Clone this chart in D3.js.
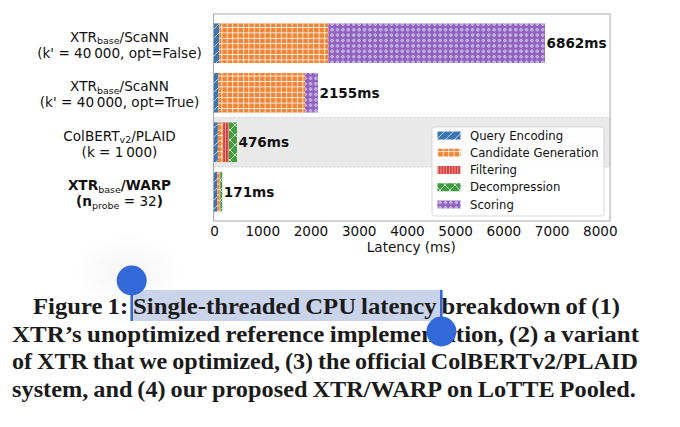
<!DOCTYPE html>
<html><head><meta charset="utf-8">
<script src="https://cdn.jsdelivr.net/npm/d3@7"></script>
<style>body{margin:0;background:#fff}svg{display:block}</style>
</head><body><svg id="c" width="680" height="427"></svg>
<script>
// ---------- data ----------
const categories = ["XTR/ScaNN opt=False", "XTR/ScaNN opt=True", "ColBERTv2/PLAID", "XTR/WARP"];
const stages = ["Query Encoding", "Candidate Generation", "Filtering", "Decompression", "Scoring"];
const queryEncoding       = [110,   90,  80, 65];
const candidateGeneration = [2260, 1796, 110, 50];
const filtering           = [0,     0,  120, 15];
const decompression       = [0,     0,  166, 41];
const scoring             = [4492, 269,   0,  0];
const totalLabels = ["6862ms", "2155ms", "476ms", "171ms"];
const xTicks = [0, 1000, 2000, 3000, 4000, 5000, 6000, 7000, 8000];
const xMax = 8210;
const highlightedCategory = "ColBERTv2/PLAID";
const xAxisLabel = "Latency (ms)";
// rich y labels: runs of [text, style]  n=normal b=bold s=subscript
const labelLines = [
  [[["XTR","n"],["base","s"],["/ScaNN","n"]], [["(k' = 40\u2009000, opt=False)","n"]]],
  [[["XTR","n"],["base","s"],["/ScaNN","n"]], [["(k' = 40\u2009000, opt=True)","n"]]],
  [[["ColBERT","n"],["v2","s"],["/PLAID","n"]], [["(k = 1\u2009000)","n"]]],
  [[["XTR","b"],["base","s"],["/WARP","b"]], [["(","b"],["n","b"],["probe","s"],[" = 32","n"],[")","b"]]]
];
const captionLines = [
  "Figure 1: Single-threaded CPU latency breakdown of (1)",
  "XTR\u2019s unoptimized reference implementation, (2) a variant",
  "of XTR that we optimized, (3) the official ColBERTv2/PLAID",
  "system, and (4) our proposed XTR/WARP on LoTTE Pooled."
];

// ---------- layout / style ----------
const series = [queryEncoding, candidateGeneration, filtering, decompression, scoring];
const colors = ["#3a76b3", "#f08535", "#d63b3b", "#409e40", "#8f62c0"];
const svg = d3.select("#c");
const font = "DejaVu Sans";
const plot = {l: 213.5, r: 610, t: 14, b: 221};

const x = d3.scaleLinear().domain([0, xMax]).range([214, 610]);
const y = d3.scaleBand().domain(categories).range([plot.t, plot.b]).paddingInner(0.2).paddingOuter(0.19);

// patterns
const defs = svg.append("defs");
function pat(id, size, color) {
  const p = defs.append("pattern").attr("id", id).attr("patternUnits", "userSpaceOnUse")
    .attr("width", size).attr("height", size);
  p.append("rect").attr("width", size).attr("height", size).attr("fill", color);
  return p;
}
const w = "rgba(255,255,255,0.85)";
let p = pat("p0", 9, colors[0]);
p.append("path").attr("d", "M0,9 L9,0 M-2,2 L2,-2 M7,11 L11,7").attr("stroke", w).attr("stroke-width", 0.8);
p = pat("p1", 5.4, colors[1]);
p.append("path").attr("d", "M0.5,0 V5.4 M0,0.5 H5.4").attr("stroke", w).attr("stroke-width", 0.9);
p = pat("p2", 2.8, colors[2]);
p.append("path").attr("d", "M1.4,0 V2.8").attr("stroke", w).attr("stroke-width", 0.6);
p = pat("p3", 10, colors[3]);
p.append("path").attr("d", "M0,10 L10,0 M0,0 L10,10").attr("stroke", w).attr("stroke-width", 0.8);
p = pat("p4", 5.4, colors[4]);
p.append("circle").attr("cx", 2.7).attr("cy", 2.7).attr("r", 1.25).attr("fill", "#9d78c8")
  .attr("stroke", "#f4effa").attr("stroke-width", 0.7);

const blur = defs.append("filter").attr("id", "blur").attr("x", "-100%").attr("y", "-100%").attr("width", "300%").attr("height", "300%");
blur.append("feGaussianBlur").attr("stdDeviation", 14);

// highlighted row band
const band = y.step();
const hc = y(highlightedCategory) + y.bandwidth() / 2;
svg.append("rect").attr("x", plot.l).attr("y", hc - band / 2).attr("width", plot.r - plot.l).attr("height", band)
  .attr("fill", "#e9e9e9");
[hc - band / 2, hc + band / 2].forEach(yy => svg.append("line").attr("x1", plot.l).attr("x2", plot.r)
  .attr("y1", yy).attr("y2", yy).attr("stroke", "#c4c4c4").attr("stroke-width", 0.8).attr("stroke-dasharray", "2,2"));

// stacked bars
const stackData = categories.map((c, i) => {
  const o = {cat: c};
  stages.forEach((s, j) => o[s] = series[j][i]);
  return o;
});
const stacked = d3.stack().keys(stages)(stackData);
stacked.forEach((layer, j) => {
  svg.append("g").selectAll("rect").data(layer).join("rect")
    .attr("x", d => x(d[0])).attr("width", d => Math.max(0, x(d[1]) - x(d[0])))
    .attr("y", d => y(d.data.cat)).attr("height", y.bandwidth())
    .attr("fill", `url(#p${j})`);
});

// total labels
categories.forEach((c, i) => {
  const tot = d3.sum(series, s => s[i]);
  svg.append("text").attr("x", x(tot) + 1.5).attr("y", y(c) + y.bandwidth() / 2)
    .attr("dominant-baseline", "central").attr("font-family", font).attr("font-weight", "bold")
    .attr("font-size", 13.6).attr("fill", "#111").text(totalLabels[i]);
});

// frame
svg.append("rect").attr("x", plot.l).attr("y", plot.t).attr("width", plot.r - plot.l).attr("height", plot.b - plot.t)
  .attr("fill", "none").attr("stroke", "#a8a8a8").attr("stroke-width", 1);

// x axis
const xa = svg.append("g").attr("transform", `translate(0,${plot.b})`)
  .call(d3.axisBottom(x).tickValues(xTicks).tickSize(0).tickPadding(5).tickFormat(d3.format("d")));
xa.select(".domain").remove();
xa.selectAll("text").attr("font-family", font).attr("font-size", 13.6).attr("fill", "#111");
svg.append("text").attr("x", (plot.l + plot.r) / 2 - 0.5).attr("y", 252).attr("text-anchor", "middle")
  .attr("font-family", font).attr("font-size", 13.6).attr("fill", "#111").text(xAxisLabel);

// y labels
categories.forEach((c, i) => {
  const cy = y(c) + y.bandwidth() / 2;
  labelLines[i].forEach((runs, li) => {
    const t = svg.append("text").attr("x", 119.5).attr("y", cy + (li === 0 ? -1.5 : 14.5))
      .attr("text-anchor", "middle").attr("font-family", font).attr("font-size", 13.6).attr("fill", "#111");
    let sub = false;
    runs.forEach(([txt, st]) => {
      const ts = t.append("tspan").text(txt);
      if (st === "s") { ts.attr("font-size", 9.5).attr("dy", 2.4); sub = true; }
      else { if (sub) { ts.attr("dy", -2.4); sub = false; } if (st === "b") ts.attr("font-weight", "bold"); }
    });
  });
});

// legend
const lg = svg.append("g");
lg.append("rect").attr("x", 432).attr("y", 127).attr("width", 172).attr("height", 89).attr("rx", 2.5)
  .attr("fill", "rgba(255,255,255,0.9)").attr("stroke", "#d2d2d2").attr("stroke-width", 0.9);
stages.forEach((s, j) => {
  const cy = 135.5 + j * 17.25;
  lg.append("rect").attr("x", 437.5).attr("y", cy - 4).attr("width", 23).attr("height", 8).attr("fill", `url(#p${j})`);
  lg.append("text").attr("x", 470).attr("y", cy).attr("dominant-baseline", "central")
    .attr("font-family", font).attr("font-size", 11.7).attr("fill", "#111").text(s);
});

// ---------- caption ----------
const capFont = "Liberation Serif";
const capG = svg.append("g");
// soft shadow blob near the handle
capG.append("ellipse").attr("cx", 128).attr("cy", 272).attr("rx", 40).attr("ry", 20).attr("fill", "#000")
  .attr("opacity", 0.04).attr("filter", "url(#blur)");
// selection highlight
capG.append("rect").attr("x", 131).attr("y", 290).attr("width", 309).attr("height", 31).attr("fill", "#c9d3ea");

const lineSpec = [[33, 620, 314], [12, 639, 341.5], [12, 638, 369], [12, 636, 396.5]];
const fs = 24;
const meas = svg.append("text").attr("font-family", capFont).attr("font-weight", "bold").attr("font-size", fs)
  .attr("visibility", "hidden");
function wlen(s) { meas.text(s); return meas.node().getComputedTextLength(); }
captionLines.forEach((ln, i) => {
  const [x0, x1, by] = lineSpec[i];
  const words = ln.split(" ");
  const ws = words.map(wd => wlen(wd));
  // per-line horizontal condensing so words + narrow gaps fill the measure
  const natural = d3.sum(ws) + 0.2 * fs * (words.length - 1);
  const sx = Math.min(1.04, (x1 - x0) / natural);
  const gap = ((x1 - x0) / sx - d3.sum(ws)) / (words.length - 1);
  const t = capG.append("text").attr("transform", `translate(${x0},${by}) scale(${sx},1)`)
    .attr("font-family", capFont).attr("font-weight", "bold")
    .attr("font-size", fs).attr("fill", "#1b1b1b");
  let cx = 0;
  words.forEach((wd, k) => { t.append("tspan").attr("x", cx).attr("y", 0).text(wd); cx += ws[k] + gap; });
});
meas.remove();

// selection handles
const hcol = "#3368d8";
capG.append("rect").attr("x", 130.4).attr("y", 280).attr("width", 2.6).attr("height", 41).attr("fill", hcol);
capG.append("circle").attr("cx", 131.7).attr("cy", 280.5).attr("r", 15).attr("fill", hcol);
capG.append("rect").attr("x", 440).attr("y", 290).attr("width", 2.6).attr("height", 41).attr("fill", hcol);
capG.append("circle").attr("cx", 441.4).attr("cy", 331.5).attr("r", 15).attr("fill", hcol);
</script></body></html>
